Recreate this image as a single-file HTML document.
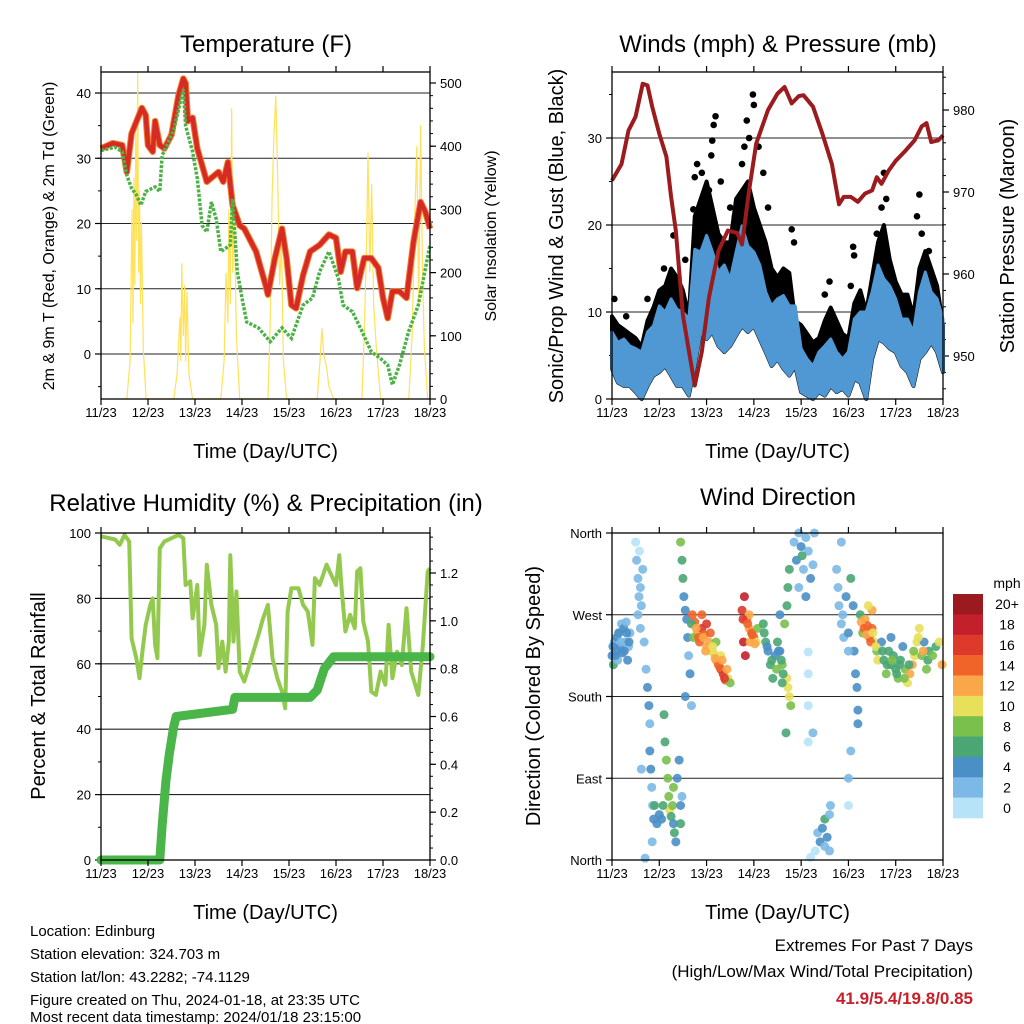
<!DOCTYPE html>
<html><head><meta charset="utf-8"><style>
html,body{margin:0;padding:0;background:#fff;}
svg{display:block;font-family:"Liberation Sans",Arial,sans-serif;}
</style></head><body>
<svg id="c" width="1024" height="1024" viewBox="0 0 1024 1024" xmlns="http://www.w3.org/2000/svg">
<rect width="1024" height="1024" fill="#fff"/>
<g id="g1"></g>
<g id="g2"></g>
<g id="g3"></g>
<g id="g4"></g>
<g font-size="15" fill="#000">
<text x="30" y="936">Location: Edinburg</text>
<text x="30" y="959">Station elevation: 324.703 m</text>
<text x="30" y="982">Station lat/lon: 43.2282; -74.1129</text>
<text x="30" y="1005">Figure created on Thu, 2024-01-18, at 23:35 UTC</text>
<text x="30" y="1022">Most recent data timestamp: 2024/01/18 23:15:00</text>
</g>
<g text-anchor="end">
<text x="973" y="951" font-size="17">Extremes For Past 7 Days</text>
<text x="973" y="977" font-size="17">(High/Low/Max Wind/Total Precipitation)</text>
<text x="973" y="1004" font-size="17" font-weight="bold" fill="#c8202a">41.9/5.4/19.8/0.85</text>
</g>
</svg>
<script>
// ---------- DATA ----------
const dayLabels = ["11/23","12/23","13/23","14/23","15/23","16/23","17/23","18/23"];
// Temperature (F)
const tempT = [0,0.25,0.45,0.55,0.65,0.87,0.95,1.0,1.1,1.15,1.25,1.35,1.5,1.65,1.75,1.8,1.85,1.95,2.05,2.25,2.5,2.6,2.7,2.8,2.95,3.05,3.3,3.5,3.55,3.7,3.85,3.95,4.05,4.15,4.3,4.45,4.65,4.85,5.0,5.1,5.2,5.35,5.45,5.6,5.75,5.9,6.0,6.1,6.2,6.35,6.5,6.65,6.8,6.9,7.0];
const tempV = [31.5,32.3,32,27.9,33.8,37.7,36.6,32,31,35.7,32,31.5,33.6,39.7,42.2,41.5,35.7,36.2,31.5,26.4,27.9,26.4,29.4,22.8,19.7,19.2,15.7,10.6,9.1,14.7,19.2,14.7,7.5,7,12.1,15.7,16.7,18.3,17.8,12.6,15.7,15.7,10.1,14.7,14.7,13.2,8.6,5.5,9.6,9.6,8.6,17.3,23.3,21.8,19.2];
const dewT = [0,0.3,0.45,0.55,0.65,0.75,0.85,0.95,1.15,1.25,1.3,1.55,1.75,1.8,1.95,2.05,2.15,2.25,2.35,2.45,2.55,2.75,2.8,2.9,3.0,3.1,3.35,3.6,3.85,4.05,4.3,4.5,4.65,4.85,5.05,5.15,5.35,5.55,5.75,5.95,6.1,6.2,6.35,6.55,6.75,7.0];
const dewV = [31.2,31.7,31,27.4,25.4,24.4,22.8,24.9,25.6,24.9,30.4,34.4,40.6,35,31,26.9,19.7,18.7,23.3,20.7,15.7,16.7,23.8,12.6,8.6,4.9,4,1.9,4,2.4,7.5,8.6,12.6,15.7,11.6,7.5,6.5,3.5,0.35,-0.7,-1.7,-4.7,-1.7,3.5,7.5,16.7];
const solarT = [0.55,0.62,0.66,0.68,0.7,0.72,0.74,0.76,0.78,0.8,0.82,0.84,0.86,0.9,0.96,1.55,1.62,1.68,1.7,1.72,1.75,1.78,1.8,1.83,1.87,1.95,2.55,2.62,2.66,2.7,2.72,2.75,2.78,2.8,2.84,2.88,2.95,3.55,3.6,3.64,3.68,3.72,3.76,3.8,3.84,3.88,3.95,4.6,4.66,4.7,4.74,4.8,4.85,4.95,5.55,5.6,5.65,5.68,5.72,5.76,5.8,5.86,5.95,6.55,6.62,6.68,6.72,6.76,6.8,6.84,6.88,6.95];
const solarV = [0,60,300,120,350,180,420,250,520,200,330,150,280,80,0,0,40,130,60,215,100,180,60,170,40,0,0,60,200,120,300,150,460,200,280,100,0,0,120,320,420,480,350,180,250,60,0,0,60,112,70,50,20,0,0,100,250,390,200,340,150,80,0,0,100,300,400,150,433,200,80,0];
// Winds (mph) at 3-hourly steps
const windT = [0,0.125,0.25,0.375,0.5,0.625,0.75,0.875,1,1.125,1.25,1.375,1.5,1.625,1.75,1.875,2,2.125,2.25,2.375,2.5,2.625,2.75,2.875,3,3.125,3.25,3.375,3.5,3.625,3.75,3.875,4,4.125,4.25,4.375,4.5,4.625,4.75,4.875,5,5.125,5.25,5.375,5.5,5.625,5.75,5.875,6,6.125,6.25,6.375,6.5,6.625,6.75,6.875,7];
const windHi = [7.7,6.5,6.9,6.1,5.8,5.4,7.7,8.4,10.7,10,11.5,10.3,10,9.2,17.2,16.9,18.8,16.9,14.6,15.4,13.8,16.9,19.9,17.6,16.9,15.4,12.3,10.7,11.5,11.9,10.7,10.7,5.8,4.6,3.8,5.4,6.1,6.9,5.4,4.6,5.4,9.2,10,10,12.3,15.4,13.8,13,11.5,9.2,9.2,7.7,12.3,14.6,12.3,11.5,9.2];
const windLo = [3.5,1.9,1.5,1.5,0.8,0,1.5,2.7,3.1,3.8,2.7,1.5,1.5,0.4,3.8,7.7,6.9,7.7,6.1,5.4,6.1,7.3,8.4,7.7,8.4,6.9,5.4,3.8,4.6,3.5,2.7,3.8,0.8,0.4,0,0.8,0.4,1.5,0.8,1.2,0.4,2.3,1.9,0,4.6,6.9,6.5,5.8,5.4,3.8,3.1,1.5,4.6,5.4,6.5,5.4,3.1];
const gustHi = [9.5,8.5,8,7.5,7,6,9,10.5,12.5,13,15,14,12.5,9.5,21,23,25,22,19,18,18,23,24,25,22,20,18,15,14,15,14.5,9,8.5,7.5,6.5,7,9,10.5,9,7.5,7,11,12.5,10,14,18,20,16,13.5,12,12,9.5,15,17,15,13,8.5];
const gustPeakT = [0.05,0.3,0.75,1.1,1.3,1.44,1.55,1.72,1.75,1.8,1.9,2.05,2.1,2.12,2.15,2.19,2.3,2.5,2.6,2.75,2.8,2.85,2.9,2.98,3.0,3.1,3.2,3.3,3.8,3.85,4.5,4.6,5.05,5.1,5.12,5.6,5.7,5.75,5.8,6.45,6.5,6.55,6.7];
const gustPeakV = [11.5,9.5,11.5,15,18.8,12.9,16,21.8,25.5,27,26,24,28,29.7,31.5,32.5,25,22,21,27,29,32,30,35,33.8,29,26,22,19.5,18,12,13.5,13,17.5,16.5,19,22,26,23,21,23.5,19,17];
const presT = [0,0.2,0.35,0.5,0.65,0.75,0.85,1.0,1.15,1.25,1.35,1.5,1.65,1.75,1.9,2.05,2.25,2.45,2.65,2.75,2.9,3.05,3.3,3.5,3.65,3.8,3.95,4.05,4.25,4.45,4.65,4.8,4.9,5.05,5.2,5.35,5.5,5.6,5.7,5.85,6.0,6.2,6.4,6.55,6.65,6.75,6.9,7.0];
const presV = [971.4,973.4,977.5,979.2,983.2,983,980.4,977.1,974.3,969.4,965.3,955,949.8,946.4,950.5,957.1,962.8,965.3,965,963.6,970.2,975.9,980,982,982.8,980.8,981.7,981.8,980.4,977.1,973.4,968.5,969.4,969.4,968.8,969.8,970.2,971.8,971,972.6,973.8,975,976.3,978,978.4,976.1,976.3,976.9];
// Relative humidity & precipitation
const rhT = [0,0.3,0.4,0.5,0.6,0.65,0.75,0.82,0.88,0.95,1.05,1.1,1.15,1.2,1.25,1.35,1.5,1.65,1.75,1.8,1.9,1.95,2.05,2.1,2.2,2.25,2.35,2.45,2.5,2.58,2.65,2.72,2.75,2.82,2.88,2.95,3.05,3.2,3.35,3.45,3.55,3.65,3.75,3.85,3.92,3.97,4.05,4.2,4.3,4.4,4.5,4.55,4.65,4.8,4.9,5.0,5.07,5.12,5.2,5.3,5.4,5.45,5.52,5.58,5.68,5.75,5.85,5.95,6.05,6.12,6.2,6.3,6.4,6.5,6.6,6.75,6.85,6.95,7.0];
const rhV = [99,98,96.4,99.4,97.4,67.8,61.7,55.6,63.7,71.9,78,80,65.8,61.7,95.3,97.4,98.4,99.4,98.4,84.1,85.2,73.9,84.1,62.7,71.9,90.3,78,71.9,58.7,66.8,57.6,66.8,93.2,66.8,82.1,57.6,54.6,61.7,68.9,73.9,78,61.7,55.6,51.5,46.4,76,83.1,83.1,78,76,65.8,86.2,84.1,90.3,87.2,84.1,93.2,83.1,69.9,75,70.9,88.2,89.2,72.9,66.8,51.5,50.5,57.6,53.6,71.9,55.6,63.7,59.6,77,57.6,50.5,65.8,88.2,89.2];
const prT = [0,1.25,1.3,1.38,1.45,1.5,1.55,1.6,2.8,2.85,4.45,4.6,4.75,4.95,7.0];
const prV = [0,0,0.14,0.33,0.44,0.5,0.56,0.6,0.63,0.68,0.68,0.71,0.8,0.85,0.85];
// Wind direction scatter (time, degrees, mph)
const dirT = [0,0.03,0.05,0.08,0.1,0.12,0.15,0.18,0.2,0.22,0.25,0.28,0.3,0.33,0.35,0.38, 0.5,0.52,0.55,0.57,0.55,0.6,0.62,0.58,0.65,0.6,0.68,0.72,0.75,0.78,0.8,0.8,0.82,0.84,0.86,0.88,0.9,0.95,0.85,0.7,0.62, 1.1,1.12,1.15,1.18,1.2,1.22,1.25,1.28,1.3,1.32,1.35,1.38,1.42,1.45,1.48,1.3,1.05,1.08,1.0,1.45, 1.45,1.48,1.5,1.52,1.55,1.58,1.6,1.62,1.65,1.68,1.55, 1.7,1.75,1.8,1.85,1.9,1.95,2.0,2.05,2.1,2.15,2.2,2.25,2.3,2.35,2.4,2.45,2.5,2.2,2.0,1.9,2.3,1.72,1.68, 2.75,2.8,2.85,2.9,2.95,3.0,3.05,2.78,2.82,2.9,3.08, 3.2,3.25,3.3,3.35,3.4,3.45,3.5,3.55,3.6,3.65,3.7,3.72,3.75,3.7,3.72,3.75,3.78,3.6,3.55,3.68, 3.85,3.9,3.95,4.0,4.05,4.1,4.15,4.2,4.25,4.28,3.95,4.1,4.02, 4.15,4.15,4.15,4.15,4.25, 4.3,4.35,4.4,4.45,4.5,4.5,4.55,4.6,4.6,4.2,4.62, 4.75,4.78,4.8,4.85,4.88,4.9,4.95,5.0,5.05,5.1,5.12,5.15,5.18,5.2,5.2,5.0,4.85,5.0,5.0,5.05, 5.25,5.3,5.35,5.4,5.45,5.5,5.55,5.6,5.5,5.42,5.62, 5.7,5.75,5.8,5.85,5.9,5.95,6.0,6.05,6.1,6.15,6.2,6.25,6.3,6.35,6.4,6.45,6.5,6.55,6.6,6.65,6.7,5.9, 0.02,0.07,0.14,0.19,0.26,0.31,0.36, 1.78,1.83,1.93,1.98,2.08,2.13,2.18,2.28,2.33,2.38,2.43, 2.77,2.87,2.92,2.97,3.02, 3.22,3.28,3.38,3.48,3.52,3.58,3.62, 5.27,5.33,5.38,5.47,5.52,5.58, 5.72,5.82,5.92,6.02,6.08,6.18,6.28,6.38,6.48,6.58,6.68,6.78,6.85,6.92,6.98];
const dirDeg = [225,215,240,230,245,220,250,235,260,228,255,240,262,220,235,250, 350,330,310,290,270,300,280,340,320,255,240,210,190,170,150,120,100,80,60,45,60,40,20,2,100, 160,130,110,90,70,55,48,60,40,30,20,90,110,60,70,80,45,60,50,40, 350,330,310,290,275,265,245,225,205,170,180, 270,262,250,240,255,248,235,240,230,228,220,215,210,205,198,200,195,240,260,270,225,245,260, 275,290,265,255,250,245,240,240,225,270,255, 260,240,230,215,200,225,240,230,215,260,280,300,320,200,190,180,170,195,270,140, 350,330,360,345,320,355,340,310,325,360,300,290,335, 229,205,170,130,140, 10,30,20,35,15,45,25,50,10,3,60, 320,300,280,260,270,245,290,250,310,280,230,205,190,165,150,230,350,90,60,120, 270,250,265,258,245,275,240,230,255,280,220, 240,220,205,230,215,225,210,200,220,235,210,195,205,215,225,240,255,225,240,210,230,245, 235,225,250,240,230,250,240, 255,245,245,230,250,235,222,212,220,200,210, 265,260,240,248,238, 250,235,220,210,230,220,205, 262,255,248,240,250,235, 230,215,220,205,215,200,215,230,245,230,220,225,235,240,215];
const dirSpd = [4,6,3,4,4,3,3,4,3,4,4,3,3,4,3,2, 1,2,2,2,2,2,2,0,2,2,2,3,4,4,3,4,4,3,2,4,6,5,2,2,2, 6,6,8,8,8,10,6,8,5,6,4,4,4,5,2,8,4,6,4,6, 8,6,6,4,4,5,4,3,4,3,4, 15,14,12,14,16,14,13,12,11,10,12,14,16,17,15,10,8,9,17,14,10,8,6, 17,18,14,12,15,14,10,19,19,13,8, 6,6,5,6,6,4,6,5,8,8,7,7,6,10,10,11,8,6,4,7, 2,4,2,4,3,2,2,4,2,2,2,4,6, 0,0,1,0,2, 1,2,4,4,2,6,4,2,3,1,2, 3,2,2,2,3,2,4,4,6,4,4,4,4,4,4,2,2,2,1,2, 6,8,13,14,16,12,10,8,14,11,11, 4,6,8,6,6,6,7,8,6,4,8,10,12,12,10,11,10,8,4,8,6,4, 4,4,4,3,4,4,4, 13,15,13,12,14,11,12,15,13,16,12, 16,15,13,14,12, 6,5,6,8,4,6,7, 13,14,12,15,11,10, 6,6,8,6,7,8,6,8,10,12,6,8,6,10,12];
const cbLabels = ["20+","18","16","14","12","10","8","6","4","2","0"];
const cbColors = ["#9b1a1f","#c3202b","#dd3a2b","#f0642a","#f9a748","#e8df5a","#7ac04c","#4aa673","#4a8fc6","#7cb9e6","#b6e3f8"];

// ---------- HELPERS ----------
const NS = "http://www.w3.org/2000/svg";
function mk(parent, tag, attrs, txt) {
  const e = document.createElementNS(NS, tag);
  for (const k in attrs) e.setAttribute(k, attrs[k]);
  if (txt !== undefined) e.textContent = txt;
  parent.appendChild(e);
  return e;
}
function lin(d0, d1, r0, r1) { return v => r0 + (v - d0) * (r1 - r0) / (d1 - d0); }
function ptsStr(ts, vs, sx, sy) { return ts.map((t, i) => sx(t).toFixed(1) + "," + sy(vs[i]).toFixed(1)).join(" "); }

function frame(g, P, sx) {
  const fr = mk(g, "rect", {x:P.x0, y:P.y0, width:P.x1-P.x0, height:P.y1-P.y0, fill:"none", stroke:"#000", "stroke-width":1.3});
  
  
  for (let d = 0; d <= 7; d++) {
    const x = sx(d);
    const tk = mk(g, "path", {d:`M${x},${P.y1}v6M${x},${P.y0}v-6`, stroke:"#000", "stroke-width":1.2});
    
    
    const lb = mk(g, "text", {x:x, y:P.y1+18, "font-size":13, "text-anchor":"middle"}, dayLabels[d]);
    
    
  }
  const xt = mk(g, "text", {x:(P.x0+P.x1)/2, y:P.y1+59, "font-size":20, "text-anchor":"middle"}, "Time (Day/UTC)");
  
  
}
function yAxis(g, P, sy, vals, labels, minors, side, grid) {
  const x = side === "l" ? P.x0 : P.x1;
  const dir = side === "l" ? -1 : 1;
  minors.forEach(v => {
    const y = sy(v);
    const m = mk(g, "path", {d:`M${x},${y}h${3*dir}`, stroke:"#000", "stroke-width":1});
    
    
  });
  vals.forEach((v, i) => {
    const y = sy(v);
    if (grid) {
      const gl = mk(g, "line", {x1:P.x0, x2:P.x1, y1:y, y2:y, stroke:"#222", "stroke-width":1.1});
      
      
    }
    const t = mk(g, "path", {d:`M${x},${y}h${6*dir}`, stroke:"#000", "stroke-width":1.2});
    
    
    const lb = mk(g, "text", {x:x + dir*10, y:y+5, "font-size":13, "text-anchor": side === "l" ? "end" : "start"}, labels[i]);
    
    
  });
}
function title(g, x, y, s) {
  const t = mk(g, "text", {x:x, y:y, "font-size":24, "text-anchor":"middle"}, s);
  
  
}
function vtitle(g, x, y, s, fs, name) {
  const t = mk(g, "text", {x:0, y:0, "font-size":fs, "text-anchor":"middle", transform:`translate(${x},${y}) rotate(-90)`}, s);
  
  
}
function range(a, b, s) { const r = []; for (let v = a; v <= b + 1e-9; v += s) r.push(+v.toFixed(4)); return r; }

// ---------- PANEL 1: TEMPERATURE ----------
(function(){
  const g = document.getElementById("g1");
  const P = {x0:101, x1:430, y0:72, y1:399};
  const sx = lin(0, 7, P.x0, P.x1);
  const sy = lin(0, 40, 354, 93);
  const sr = lin(0, 500, 399, 83);
  yAxis(g, P, sy, [0,10,20,30,40], ["0","10","20","30","40"], range(-5, 40, 5), "l", true);
  yAxis(g, P, sr, [0,100,200,300,400,500], ["0","100","200","300","400","500"], range(0, 500, 20), "r", false);
  const sol = mk(g, "polyline", {points:ptsStr(solarT, solarV, sx, v => Math.max(P.y0, sr(v))), fill:"none", stroke:"#ffe15a", "stroke-width":1.2});
  
  
  const or = mk(g, "polyline", {points:ptsStr(tempT, tempV, sx, sy), fill:"none", stroke:"#f07f2a", "stroke-width":6.5, "stroke-linejoin":"round"});
  
  
  const rd = mk(g, "polyline", {points:ptsStr(tempT, tempV, sx, sy), fill:"none", stroke:"#d52a26", "stroke-width":4.5, "stroke-linejoin":"round"});
  
  
  const gr = mk(g, "polyline", {points:ptsStr(dewT, dewV, sx, sy), fill:"none", stroke:"#4cb146", "stroke-width":3.5, "stroke-dasharray":"3 1.5"});
  
  
  frame(g, P, sx);
  title(g, 266, 52, "Temperature (F)");
  vtitle(g, 54, 236, "2m & 9m T (Red, Orange) & 2m Td (Green)", 16, "y-axis-title-left");
  vtitle(g, 496, 236, "Solar Insolation (Yellow)", 16, "y-axis-title-right");
})();

// ---------- PANEL 2: WINDS ----------
(function(){
  const g = document.getElementById("g2");
  const P = {x0:612, x1:943, y0:72, y1:399};
  const sx = lin(0, 7, P.x0, P.x1);
  const sy = lin(0, 30, 399, 138);
  const sp = lin(950, 980, 356, 110);
  yAxis(g, P, sy, [0,10,20,30], ["0","10","20","30"], range(0, 35, 5), "l", true);
  yAxis(g, P, sp, [950,960,970,980], ["950","960","970","980"], range(946, 984, 2), "r", false);
  const up = windT.map((t, i) => sx(t).toFixed(1) + "," + sy(gustHi[i]).toFixed(1));
  const dn = windT.map((t, i) => sx(t).toFixed(1) + "," + sy(windLo[i]).toFixed(1)).reverse();
  const blk = mk(g, "polygon", {points:up.concat(dn).join(" "), fill:"#000", stroke:"#000", "stroke-width":4, "stroke-linejoin":"round"});
  
  
  gustPeakT.forEach((t, i) => {
    const c = mk(g, "circle", {cx:sx(t), cy:sy(gustPeakV[i]), r:3.3, fill:"#000"});
    
    
  });
  const bu = windT.map((t, i) => sx(t).toFixed(1) + "," + sy(windHi[i]).toFixed(1));
  const bd = windT.map((t, i) => sx(t).toFixed(1) + "," + sy(windLo[i]).toFixed(1)).reverse();
  const blu = mk(g, "polygon", {points:bu.concat(bd).join(" "), fill:"#4f98d3", stroke:"#4f98d3", "stroke-width":3, "stroke-linejoin":"round"});
  
  
  const pr = mk(g, "polyline", {points:ptsStr(presT, presV, sx, sp), fill:"none", stroke:"#9b1b1e", "stroke-width":4, "stroke-linejoin":"round"});
  
  
  frame(g, P, sx);
  title(g, 778, 52, "Winds (mph) & Pressure (mb)");
  vtitle(g, 563, 236, "Sonic/Prop Wind & Gust (Blue, Black)", 20, "y-axis-title-left");
  vtitle(g, 1014, 236, "Station Pressure (Maroon)", 20, "y-axis-title-right");
})();

// ---------- PANEL 3: RH & PRECIP ----------
(function(){
  const g = document.getElementById("g3");
  const P = {x0:101, x1:430, y0:533, y1:860};
  const sx = lin(0, 7, P.x0, P.x1);
  const sy = lin(0, 100, 860, 533);
  const sp = lin(0, 1.2, 860, 573);
  yAxis(g, P, sy, [0,20,40,60,80,100], ["0","20","40","60","80","100"], range(0, 100, 10), "l", true);
  yAxis(g, P, sp, [0,0.2,0.4,0.6,0.8,1.0,1.2], ["0.0","0.2","0.4","0.6","0.8","1.0","1.2"], range(0, 1.35, 0.05), "r", false);
  const rh = mk(g, "polyline", {points:ptsStr(rhT, rhV, sx, sy), fill:"none", stroke:"#93c94f", "stroke-width":4, "stroke-linejoin":"round"});
  
  
  const pc = mk(g, "polyline", {points:ptsStr(prT, prV, sx, sp), fill:"none", stroke:"#4ab548", "stroke-width":9, "stroke-linejoin":"round", "stroke-linecap":"round"});
  
  
  frame(g, P, sx);
  title(g, 266, 511, "Relative Humidity (%) & Precipitation (in)");
  vtitle(g, 45, 696, "Percent & Total Rainfall", 20, "y-axis-title-left");
})();

// ---------- PANEL 4: WIND DIRECTION ----------
(function(){
  const g = document.getElementById("g4");
  const P = {x0:612, x1:943, y0:533, y1:860};
  const sx = lin(0, 7, P.x0, P.x1);
  const sy = lin(0, 360, 860, 533);
  yAxis(g, P, sy, [0,90,180,270,360], ["North","East","South","West","North"], [], "l", true);
  function col(s) { let k = Math.floor(s / 2); if (k > 10) k = 10; return cbColors[10 - k]; }
  dirT.forEach((t, i) => {
    const c = mk(g, "circle", {cx:sx(t), cy:sy(dirDeg[i]), r:4.5, fill:col(dirSpd[i]), "fill-opacity":0.9});
    
    
  });
  frame(g, P, sx);
  title(g, 778, 505, "Wind Direction");
  vtitle(g, 540, 696, "Direction (Colored By Speed)", 20, "y-axis-title-left");
  const cb = mk(g, "g", {});
  
  
  const u = mk(cb, "text", {x:1007, y:588, "font-size":14, "text-anchor":"middle"}, "mph");
  
  
  cbLabels.forEach((l, i) => {
    const h = 224 / cbLabels.length;
    const r = mk(cb, "rect", {x:953, y:594 + i*h, width:30, height:h + 0.3, fill:cbColors[i]});
    
    
    const t = mk(cb, "text", {x:1007, y:594 + i*h + h/2 + 5, "font-size":14, "text-anchor":"middle"}, l);
    
    
  });
})();
</script>
</body></html>
